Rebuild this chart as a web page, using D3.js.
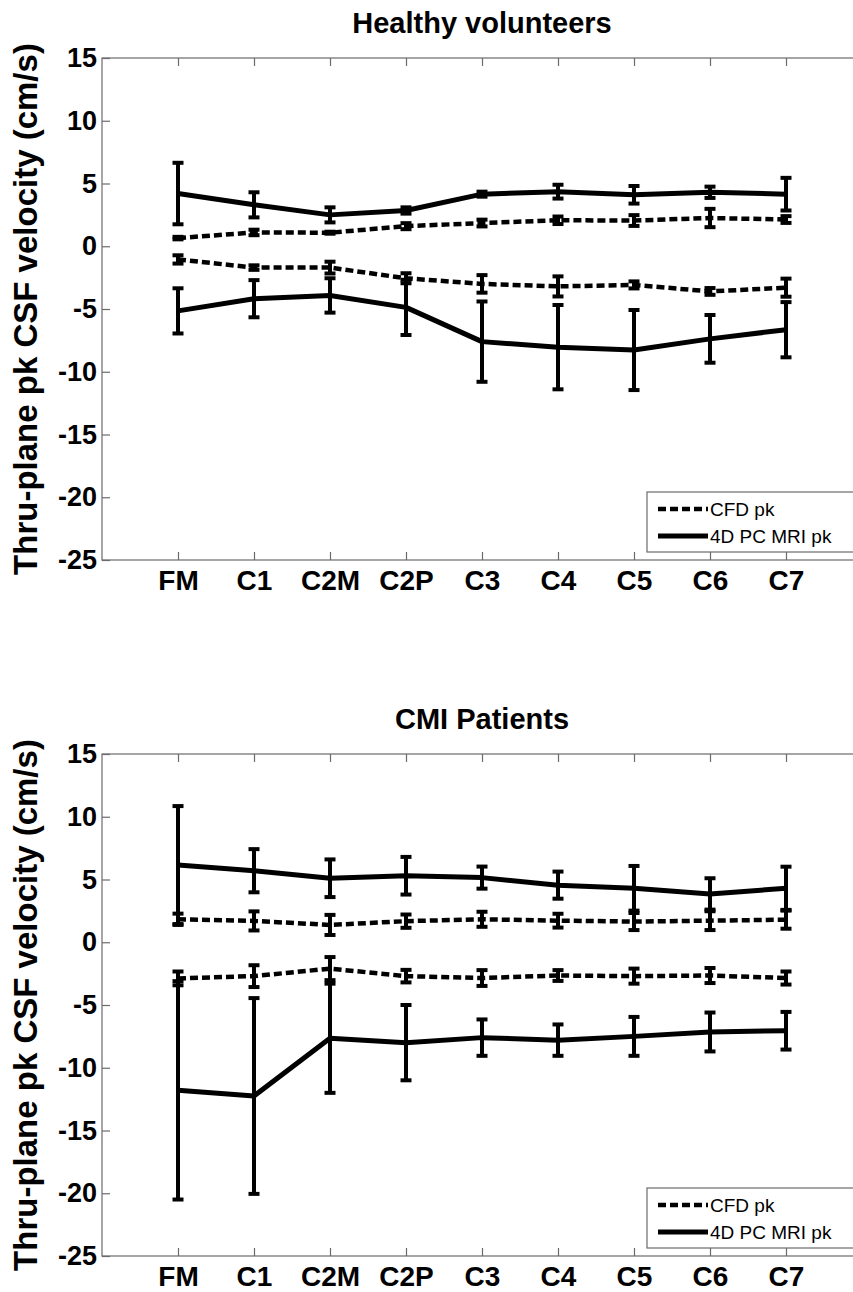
<!DOCTYPE html>
<html lang="en">
<head>
  <meta charset="UTF-8">
  <title>Thru-plane pk CSF velocity</title>
  <script src="https://d3js.org/d3.v7.min.js"></script>
  <style>
    body { margin: 0; background: #fff; }
    text { font-family: "Liberation Sans", Arial, sans-serif; }
  </style>
</head>
<body>
  <div id="root"></div>
  <script>
    const levels = ['FM', 'C1', 'C2M', 'C2P', 'C3', 'C4', 'C5', 'C6', 'C7']
    const yTicks = [15, 10, 5, 0, -5, -10, -15, -20, -25]

    // Healthy volunteers (mean, sd)
    const hvMriPos = [4.2, 3.3, 2.5, 2.85, 4.15, 4.35, 4.1, 4.3, 4.15]
    const hvMriPosSd = [2.45, 1.0, 0.6, 0.25, 0.2, 0.55, 0.7, 0.45, 1.3]
    const hvCfdPos = [0.65, 1.1, 1.08, 1.6, 1.85, 2.07, 2.05, 2.25, 2.13]
    const hvCfdPosSd = [0.1, 0.22, 0.08, 0.24, 0.27, 0.3, 0.43, 0.73, 0.27]
    const hvCfdNeg = [-1.05, -1.7, -1.7, -2.55, -3.0, -3.2, -3.08, -3.6, -3.3]
    const hvCfdNegSd = [0.33, 0.18, 0.47, 0.4, 0.7, 0.8, 0.28, 0.27, 0.72]
    const hvMriNeg = [-5.15, -4.18, -3.92, -4.87, -7.6, -8.04, -8.27, -7.38, -6.65]
    const hvMriNegSd = [1.8, 1.48, 1.37, 2.2, 3.2, 3.36, 3.19, 1.9, 2.2]

    // CMI patients (mean, sd)
    const cmiMriPos = [6.15, 5.7, 5.1, 5.3, 5.15, 4.55, 4.3, 3.85, 4.3]
    const cmiMriPosSd = [4.7, 1.72, 1.5, 1.5, 0.88, 1.08, 1.78, 1.25, 1.72]
    const cmiCfdPos = [1.83, 1.7, 1.38, 1.68, 1.83, 1.72, 1.65, 1.72, 1.8]
    const cmiCfdPosSd = [0.45, 0.76, 0.8, 0.53, 0.6, 0.55, 0.68, 0.75, 0.72]
    const cmiCfdNeg = [-2.88, -2.7, -2.1, -2.7, -2.85, -2.65, -2.7, -2.65, -2.85]
    const cmiCfdNegSd = [0.55, 0.87, 0.92, 0.5, 0.63, 0.43, 0.6, 0.6, 0.52]
    const cmiMriNeg = [-11.8, -12.25, -7.65, -8.0, -7.6, -7.8, -7.5, -7.15, -7.05]
    const cmiMriNegSd = [8.7, 7.8, 4.35, 3.0, 1.45, 1.25, 1.55, 1.55, 1.5]

    const W = 853, H = 1292
    const axisColor = '#6b6b6b'
    const dash = '8,4'

    const svg = d3.select('#root')
      .append('svg')
      .attr('width', W)
      .attr('height', H)

    const x = d3.scaleLinear().domain([0, 10]).range([102, 862])
    const y = d3.scaleLinear().domain([-25, 15]).range([560, 58])

    function panel(offsetY, title, series) {
      const g = svg.append('g').attr('transform', `translate(0,${offsetY})`)

      g.append('text')
        .attr('x', (x(0) + x(10)) / 2)
        .attr('y', 33)
        .attr('text-anchor', 'middle')
        .style('font-size', '29px')
        .style('font-weight', 'bold')
        .text(title)

      g.append('rect')
        .attr('x', x(0)).attr('y', y(15))
        .attr('width', x(10) - x(0)).attr('height', y(-25) - y(15))
        .attr('fill', 'none')
        .attr('stroke', axisColor)
        .attr('stroke-width', 1.2)

      // plain hyphen for negatives, as in the original figure
      const left = g.append('g')
        .attr('transform', `translate(${x(0)},0)`)
        .call(d3.axisLeft(y).tickValues(yTicks).tickSize(-8).tickSizeOuter(0).tickPadding(5)
          .tickFormat(d => String(d)))
      const bottom = g.append('g')
        .attr('transform', `translate(0,${y(-25)})`)
        .call(d3.axisBottom(x).tickValues(d3.range(1, 10)).tickSize(-8).tickSizeOuter(0).tickPadding(10)
          .tickFormat(d => levels[d - 1]))
      const top = g.append('g')
        .attr('transform', `translate(0,${y(15)})`)
        .call(d3.axisTop(x).tickValues(d3.range(1, 10)).tickSize(-8).tickSizeOuter(0).tickFormat(''))
      const right = g.append('g')
        .attr('transform', `translate(${x(10)},0)`)
        .call(d3.axisRight(y).tickValues(yTicks).tickSize(-8).tickSizeOuter(0).tickFormat(''))

      ;[left, bottom, top, right].forEach(a => {
        a.select('.domain').remove()
        a.selectAll('.tick line').attr('stroke', axisColor).attr('stroke-width', 1.2)
        a.selectAll('.tick text')
          .attr('fill', '#000')
          .style('font-family', '"Liberation Sans", Arial, sans-serif')
          .style('font-weight', 'bold')
      })
      left.selectAll('.tick text').style('font-size', '27px')
      bottom.selectAll('.tick text').style('font-size', '28px')

      g.append('text')
        .attr('transform', 'rotate(-90)')
        .attr('x', -(y(15) + y(-25)) / 2)
        .attr('y', 37)
        .attr('text-anchor', 'middle')
        .style('font-size', '33px')
        .style('font-weight', 'bold')
        .text('Thru-plane pk CSF velocity (cm/s)')

      const line = d3.line().x((d, i) => x(i + 1)).y(d => y(d))

      series.forEach(s => {
        const sg = g.append('g')
        const pts = s.mean.map((m, i) => ({ i, m, sd: s.sd[i] }))

        const bars = sg.selectAll('.eb').data(pts).enter().append('g')
        bars.append('line')
          .attr('x1', d => x(d.i + 1)).attr('x2', d => x(d.i + 1))
          .attr('y1', d => y(d.m + d.sd)).attr('y2', d => y(d.m - d.sd))
        bars.append('line')
          .attr('x1', d => x(d.i + 1) - 5.5).attr('x2', d => x(d.i + 1) + 5.5)
          .attr('y1', d => y(d.m + d.sd)).attr('y2', d => y(d.m + d.sd))
        bars.append('line')
          .attr('x1', d => x(d.i + 1) - 5.5).attr('x2', d => x(d.i + 1) + 5.5)
          .attr('y1', d => y(d.m - d.sd)).attr('y2', d => y(d.m - d.sd))
        bars.selectAll('line')
          .attr('stroke', '#000')
          .attr('stroke-width', 4)

        sg.append('path')
          .datum(s.mean)
          .attr('d', line)
          .attr('fill', 'none')
          .attr('stroke', '#000')
          .attr('stroke-width', s.dashed ? 4.5 : 5)
          .attr('stroke-linejoin', 'round')
          .attr('stroke-dasharray', s.dashed ? dash : null)
      })

      // legend
      const lg = g.append('g')
      lg.append('rect')
        .attr('x', 647).attr('y', 492)
        .attr('width', 215).attr('height', 60)
        .attr('fill', '#fff')
        .attr('stroke', axisColor)
        .attr('stroke-width', 1.2)
      const items = [
        { label: 'CFD pk', dashed: true, yy: 509 },
        { label: '4D PC MRI pk', dashed: false, yy: 536 }
      ]
      items.forEach(it => {
        lg.append('line')
          .attr('x1', 658).attr('x2', 708)
          .attr('y1', it.yy).attr('y2', it.yy)
          .attr('stroke', '#000')
          .attr('stroke-width', it.dashed ? 4.5 : 5)
          .attr('stroke-dasharray', it.dashed ? dash : null)
        lg.append('text')
          .attr('x', 710)
          .attr('y', it.yy + 7)
          .style('font-size', '19px')
          .text(it.label)
      })
    }

    panel(0, 'Healthy volunteers', [
      { mean: hvMriPos, sd: hvMriPosSd, dashed: false },
      { mean: hvCfdPos, sd: hvCfdPosSd, dashed: true },
      { mean: hvCfdNeg, sd: hvCfdNegSd, dashed: true },
      { mean: hvMriNeg, sd: hvMriNegSd, dashed: false }
    ])

    panel(696, 'CMI Patients', [
      { mean: cmiMriPos, sd: cmiMriPosSd, dashed: false },
      { mean: cmiCfdPos, sd: cmiCfdPosSd, dashed: true },
      { mean: cmiCfdNeg, sd: cmiCfdNegSd, dashed: true },
      { mean: cmiMriNeg, sd: cmiMriNegSd, dashed: false }
    ])
  </script>
</body>
</html>
